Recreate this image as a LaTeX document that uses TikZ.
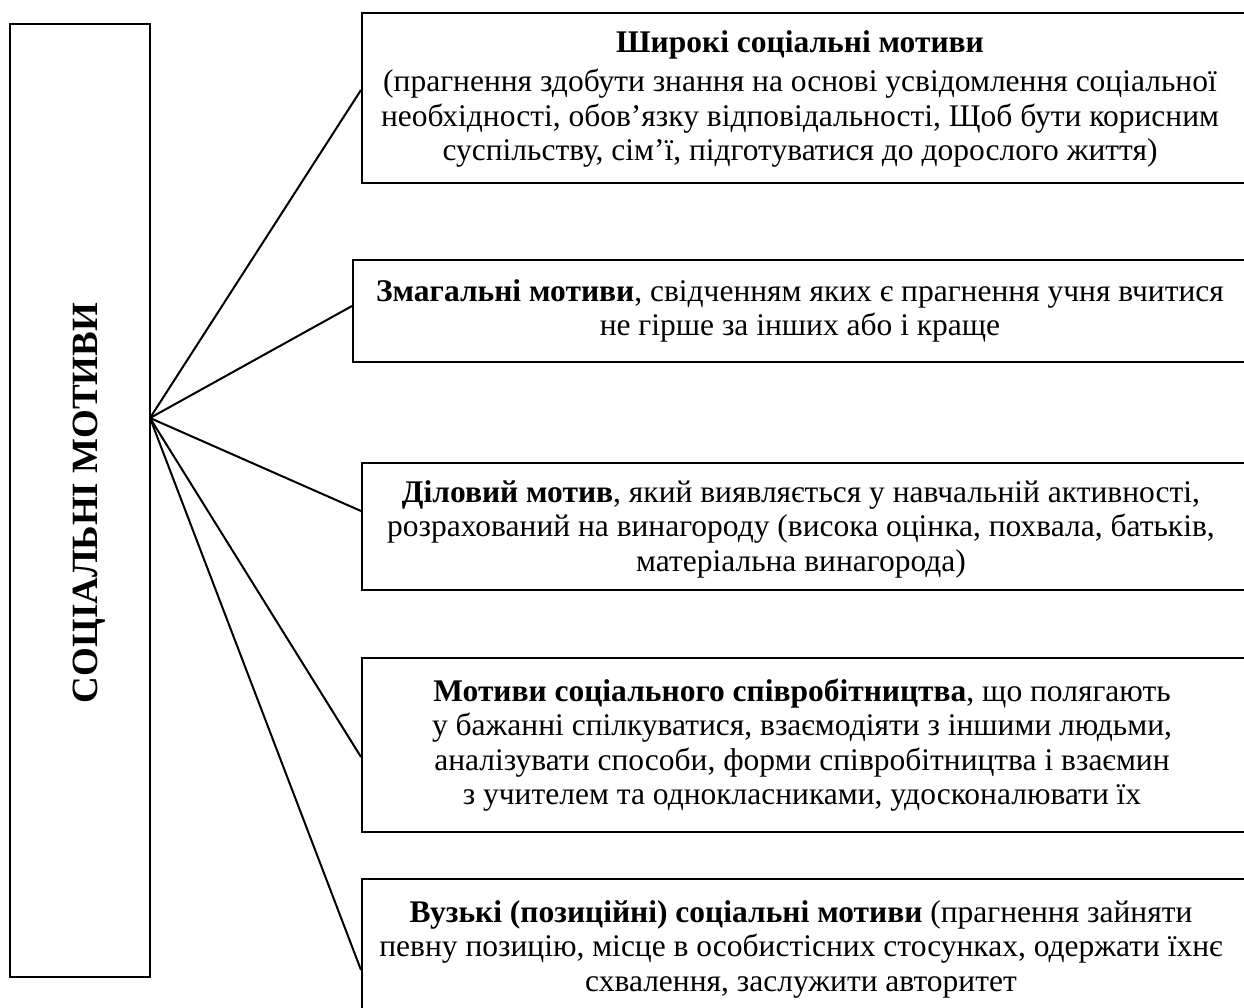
\documentclass[tikz,border=0pt]{standalone}
\usepackage{fontspec}
\setmainfont{Liberation Serif}
\begin{document}
\begin{tikzpicture}[x=1pt,y=-1pt,
  frame/.style={draw=black,line width=2pt,inner sep=0pt},
  txt/.style={align=center,inner sep=0pt,font=\fontsize{31.5}{34.5}\selectfont},
  link/.style={draw=black,line width=2pt}]
\useasboundingbox (0,0) rectangle (1244,1008);
\clip (0,0) rectangle (1244,1008);
% left box
\node[frame,minimum width=140pt,minimum height=953pt] (main) at (80,500.5) {};
\node[rotate=90,inner sep=0pt,font=\bfseries\fontsize{37}{40}\selectfont] (mainlabel) at (89,503) {СОЦІАЛЬНІ МОТИВИ};
\coordinate (hub) at (150,418);
% right boxes
\node[frame,minimum width=888pt,minimum height=170pt] (b1) at (806,98) {};
\node[frame,minimum width=897pt,minimum height=102pt] (b2) at (801.5,311) {};
\node[frame,minimum width=888pt,minimum height=127pt] (b3) at (806,526.5) {};
\node[frame,minimum width=888pt,minimum height=174pt] (b4) at (806,745) {};
\node[frame,minimum width=888pt,minimum height=174pt] (b5) at (806,966) {};
% texts
\node[txt] (t1) at (800,99) {\textbf{Широкі соціальні мотиви}\\[5pt](прагнення здобути знання на основі усвідомлення соціальної\\необхідності, обов’язку відповідальності, Щоб бути корисним\\суспільству, сім’ї, підготуватися до дорослого життя)};
\node[txt] (t2) at (800,311) {\textbf{Змагальні мотиви}, свідченням яких є прагнення учня вчитися\\не гірше за інших або і краще};
\node[txt] (t3) at (801,529) {\textbf{Діловий мотив}, який виявляється у навчальній активності,\\розрахований на винагороду (висока оцінка, похвала, батьків,\\матеріальна винагорода)};
\node[txt] (t4) at (802,745) {\textbf{Мотиви соціального співробітництва}, що полягають\\у бажанні спілкуватися, взаємодіяти з іншими людьми,\\аналізувати способи, форми співробітництва і взаємин\\з учителем та однокласниками, удосконалювати їх};
\node[txt] (t5) at (801,949) {\textbf{Вузькі (позиційні) соціальні мотиви} (прагнення зайняти\\певну позицію, місце в особистісних стосунках, одержати їхнє\\схвалення, заслужити авторитет};
% connector ends on box edges
\coordinate (e1) at ([yshift=8pt]b1.west);
\coordinate (e2) at ([yshift=5pt]b2.west);
\coordinate (e3) at ([yshift=15.5pt]b3.west);
\coordinate (e4) at ([yshift=-12pt]b4.west);
\coordinate (e5) at ([yshift=-4pt]b5.west);
\draw[link] (hub) -- (e1);
\draw[link] (hub) -- (e2);
\draw[link] (hub) -- (e3);
\draw[link] (hub) -- (e4);
\draw[link] (hub) -- (e5);
\end{tikzpicture}
\end{document}
